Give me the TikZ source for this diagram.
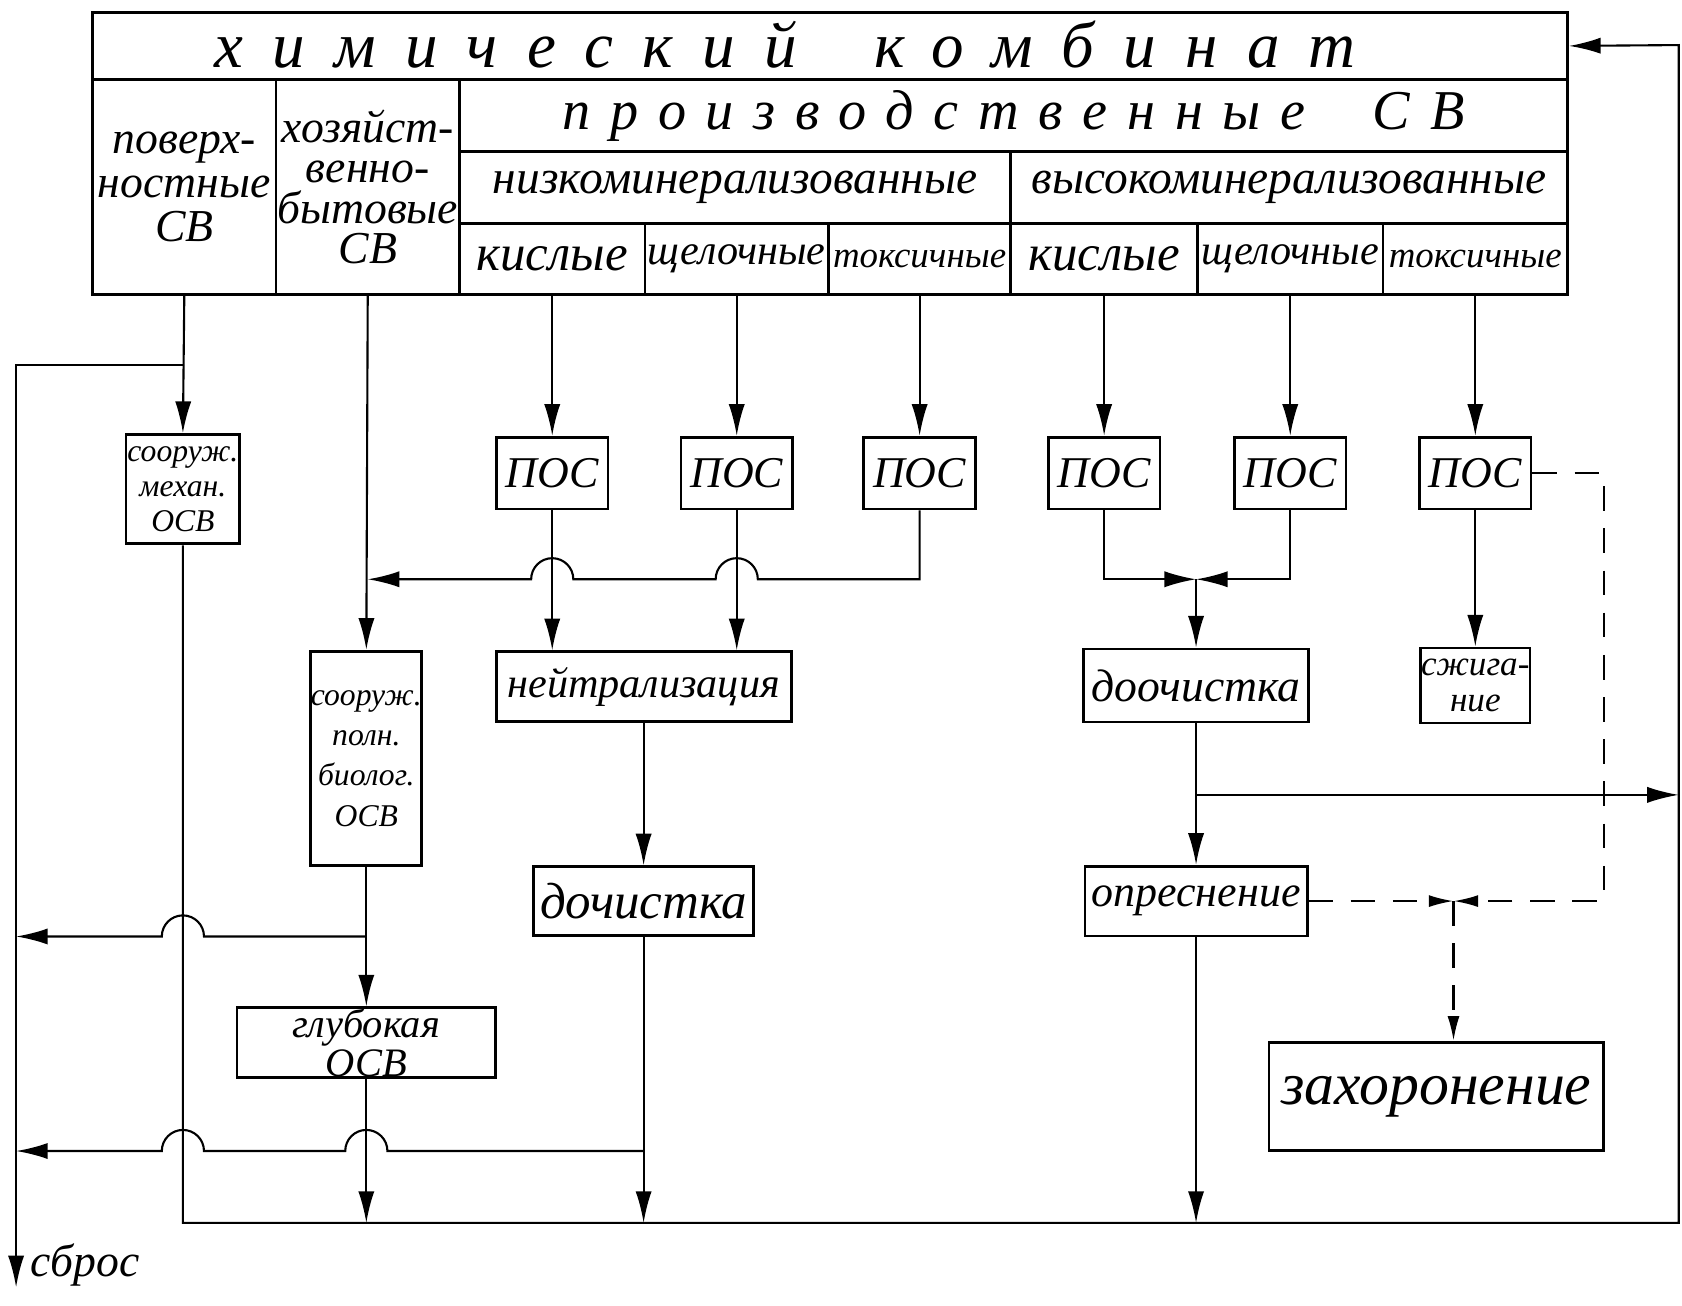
\documentclass[tikz,border=0pt]{standalone}
\usepackage{fontspec}
\setmainfont{Liberation Serif}
\usetikzlibrary{arrows.meta, positioning, calc}

% one unit = one pixel of the sketch
\def\px{0.010727cm}
\def\hr{6pt} % radius of the line hops

\begin{document}
\begin{tikzpicture}[
    x=\px, y=-\px,
    font=\itshape,
    cell/.style={draw, thick, anchor=north west, inner sep=0pt, align=center},
    box/.style={draw, thick, inner sep=0pt, align=center},
    flow/.style={semithick, -{Latex[length=9pt, width=4.6pt]}},
    dline/.style={semithick, dash pattern=on 7pt off 5pt},
  ]
  \useasboundingbox (0,0) rectangle (1568,1217);

  % head of the table
  \node[cell, minimum width=1375*\px, minimum height=63*\px] (title) at (85,10) {};
  \node[font=\itshape\fontsize{18.5}{20}\selectfont\addfontfeature{LetterSpace=45}]
    (titletxt) at (732,42) {химический\hspace{1.2em}комбинат};
  \node[cell, minimum width=171*\px, minimum height=200*\px,
        font=\itshape\fontsize{13}{12.5}\selectfont]
    (pov) at (85,73) {поверх-\\ностные\\СВ};
  \node[cell, minimum width=171*\px, minimum height=200*\px,
        font=\itshape\fontsize{13}{11.5}\selectfont]
    (hoz) at (256,73) {хозяйст-\\венно-\\бытовые\\СВ};
  \node[cell, minimum width=1033*\px, minimum height=67*\px,
        font=\itshape\fontsize{16}{18}\selectfont\addfontfeature{LetterSpace=35}]
    (proizv) at (427,73) {производственные\hspace{1.2em}СВ};
  \node[cell, minimum width=514*\px, minimum height=67*\px,
        font=\itshape\fontsize{13.5}{15}\selectfont]
    (nizko) at (427,140) {низкоминерализованные};
  \node[cell, minimum width=519*\px, minimum height=67*\px,
        font=\itshape\fontsize{13.5}{15}\selectfont]
    (vysoko) at (941,140) {высокоминерализованные};
  \foreach \x/\w/\t/\fs [count=\i] in {427/173/кислые/14.5, 600/171/щелочные/12,
      771/170/токсичные/10.5, 941/174/кислые/14.5, 1115/173/щелочные/12,
      1288/172/токсичные/10.5}
    \node[cell, minimum width=\w*\px, minimum height=66*\px,
          font=\itshape\fontsize{\fs}{\fs}\selectfont] (type\i) at (\x,207) {\t};

  % primary settlers
  \coordinate (posrow) at (0,441);
  \foreach \i in {1,...,6} {
    \node[box, minimum width=104*\px, minimum height=67*\px,
          font=\itshape\fontsize{12.5}{14}\selectfont]
      (pos\i) at (type\i.south |- posrow) {ПОС};
    \draw[flow] (type\i.south) -- (pos\i.north);
  }

  % treatment units
  \node[box, minimum width=106*\px, minimum height=102*\px,
        font=\itshape\fontsize{9}{10}\selectfont]
    (mech) at (170.5,456) {сооруж.\\механ.\\ОСВ};
  \node[box, minimum width=103*\px, minimum height=200*\px,
        font=\itshape\fontsize{9}{11.5}\selectfont]
    (bio) at (341.5,707) {сооруж.\\полн.\\биолог.\\ОСВ};
  \node[box, minimum width=241*\px, minimum height=65*\px,
        font=\itshape\fontsize{11.5}{9}\selectfont]
    (deep) at (341.5,972) {глубокая\\ОСВ};
  \node[box, minimum width=275*\px, minimum height=65*\px,
        font=\itshape\fontsize{12}{14}\selectfont]
    (neut) at (600,640) {нейтрализация};
  \node[box, minimum width=205*\px, minimum height=64*\px,
        font=\itshape\fontsize{14.5}{16}\selectfont]
    (doch) at (600,840) {дочистка};
  \node[box, minimum width=210*\px, minimum height=68*\px,
        font=\itshape\fontsize{13}{15}\selectfont]
    (dooch) at (1115,639) {доочистка};
  \node[box, minimum width=207*\px, minimum height=65*\px,
        font=\itshape\fontsize{12.5}{14}\selectfont]
    (opr) at (1115,840) {опреснение};
  \node[box, minimum width=102*\px, minimum height=70*\px,
        font=\itshape\fontsize{10}{10}\selectfont]
    (burn) at (type6.south |- dooch) {сжига-\\ние};
  \node[box, minimum width=312*\px, minimum height=101*\px,
        font=\itshape\fontsize{17}{18}\selectfont]
    (bury) at (1339,1022) {захоронение};

  % helper points
  \coordinate (rowA) at (0,540);
  \coordinate (rowB) at (0,873);
  \coordinate (rowC) at (0,1073);
  \coordinate (rowD) at (0,741);
  \coordinate (lt) at (15,340);
  \coordinate (drop) at (15,1200);
  \coordinate (bl) at (0,1140);
  \coordinate (tr) at (1565,42);
  \coordinate (dcol) at (1495,0);
  \node[right=4pt of drop, anchor=south west, inner sep=0pt,
        font=\itshape\fontsize{13}{14}\selectfont] (sbros) {сброс};

  % surface water and by-pass to the discharge
  \draw[flow] (pov.south) -- (mech.north);
  \draw[flow] (pov.south |- lt) -- (lt) -- (drop);
  % recycle back to the plant
  \draw[flow] (mech.south) -- (mech.south |- bl) -- (tr |- bl) -- (tr) -- (title.east);

  % domestic line
  \draw[flow] (hoz.south) -- (bio.north);
  \draw[flow] (bio.south) -- (deep.north);
  \draw[flow] (deep.south) -- (deep.south |- bl);
  \draw[flow] (bio.south |- rowB) -- ($(mech.south |- rowB)+(\hr,0)$)
    arc (0:180:\hr) -- (lt |- rowB);

  % low-mineralised line
  \draw[flow] (pos1.south) -- (pos1.south |- neut.north);
  \draw[flow] (pos2.south) -- (pos2.south |- neut.north);
  \draw[flow] (pos3.south) -- (pos3.south |- rowA)
    -- ($(pos2.south |- rowA)+(\hr,0)$) arc (0:180:\hr)
    -- ($(pos1.south |- rowA)+(\hr,0)$) arc (0:180:\hr)
    -- (hoz.south |- rowA);
  \draw[flow] (neut.south) -- (doch.north);
  \draw[flow] (doch.south) -- (doch.south |- bl);
  \draw[flow] (doch.south |- rowC) -- ($(deep.south |- rowC)+(\hr,0)$)
    arc (0:180:\hr) -- ($(mech.south |- rowC)+(\hr,0)$)
    arc (0:180:\hr) -- (lt |- rowC);

  % high-mineralised line
  \coordinate (j1) at (dooch.north |- rowA);
  \draw[flow] (pos4.south) -- (pos4.south |- rowA) -- (j1);
  \draw[flow] (pos5.south) -- (pos5.south |- rowA) -- (j1);
  \draw[flow] (j1) -- (dooch.north);
  \draw[flow] (dooch.south) -- (opr.north);
  \draw[flow] (dooch.south |- rowD) -- (tr |- rowD);
  \draw[flow] (opr.south) -- (opr.south |- bl);
  \draw[flow] (pos6.south) -- (burn.north);

  % brines to burial
  \coordinate (j2) at (1355,0 |- opr.east);
  \draw[dline, -{Latex[length=7pt, width=3.4pt]}] (pos6.east) -- (pos6.east -| dcol)
    -- (dcol |- opr.east) -- (j2 |- opr.east);
  \draw[dline, -{Latex[length=7pt, width=3.4pt]}] (opr.east) -- (j2 |- opr.east);
  \draw[dline, -{Latex[length=7pt, width=3.4pt]}] (j2 |- opr.east) -- (j2 |- bury.north);
\end{tikzpicture}
\end{document}
